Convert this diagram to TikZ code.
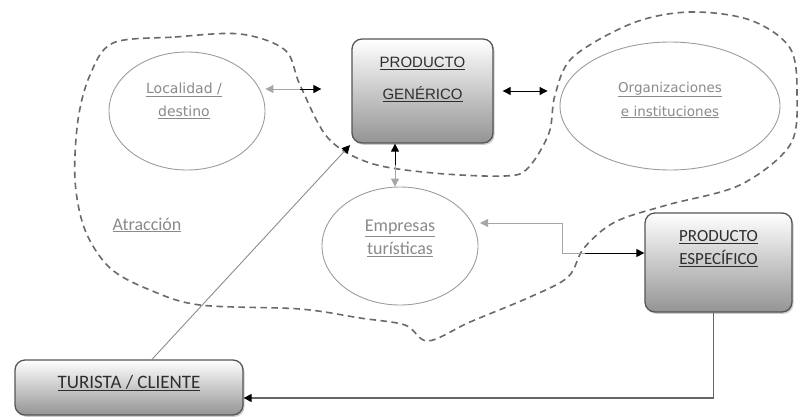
\documentclass[tikz,border=0pt]{standalone}
\usepackage{fontspec}
\setmainfont{Carlito}
\newfontfamily\verdfont{DejaVu Sans}
\newfontfamily\arialfont{Liberation Sans}
\usetikzlibrary{shapes.geometric,shadows,arrows.meta,calc}
\definecolor{ovalgray}{HTML}{9C9C9C}
\definecolor{ovaltext}{HTML}{8A8A8A}
\definecolor{boxline}{HTML}{555555}
\definecolor{boxtext}{HTML}{2E2E2E}
\definecolor{dashgray}{HTML}{6A6A6A}
\tikzset{
  oval/.style={ellipse,draw=ovalgray,line width=0.9pt,inner sep=0pt},
  ovaltxt/.style={text=ovaltext,align=center},
  prodbox/.style={rectangle,rounded corners=10pt,draw=boxline,line width=1.3pt,
    top color=white,bottom color=black!42,
    drop shadow={shadow xshift=1.5pt,shadow yshift=-1.8pt,opacity=0.4}},
  boxtxt/.style={text=boxtext,align=center},
  blkarr/.style={-{Triangle[length=8pt,width=8pt]},line width=1pt,black},
  gryarr/.style={-{Triangle[length=8pt,width=8pt]},line width=1pt,black!35},
}
\begin{document}
\begin{tikzpicture}[x=1pt,y=-1pt]
\useasboundingbox (0,0) rectangle (799,418);

\draw[dashgray,line width=1.6pt,dash pattern=on 6.5pt off 4.5pt]
  plot[smooth cycle,tension=0.55] coordinates {
  (113,43) (175,37) (240,34) (285,50) (300,85) (328,138) (370,163)
  (433,173) (505,176) (528,168) (549,133) (555,95) (573,57) (633,23)
  (690,12) (750,20) (790,48) (797,95) (790,145) (740,185) (667,205)
  (615,222) (584,248) (568,277) (530,297) (470,322) (428,341) (405,325)
  (360,318) (300,309) (200,305) (150,290) (110,268) (85,230) (75,180)
  (78,120) (90,75)};

\node[oval,minimum width=156pt,minimum height=118pt] (loc) at (187,111) {};
\node[ovaltxt,font=\verdfont\fontsize{14}{23}\selectfont] (loctxt) at (184,100.5)
  {\underline{Localidad /}\\\underline{destino}};

\node[oval,minimum width=220pt,minimum height=128pt] (org) at (670,106) {};
\node[ovaltxt,font=\verdfont\fontsize{13.5}{24}\selectfont] (orgtxt) at (670,100)
  {\underline{Organizaciones}\\\underline{e instituciones}};

\node[oval,minimum width=156pt,minimum height=118pt] (emp) at (400,246) {};
\node[ovaltxt,font=\fontsize{18}{23}\selectfont] (emptxt) at (400,238.5)
  {\underline{Empresas}\\\underline{turísticas}};

\node[ovaltxt,font=\fontsize{18}{23}\selectfont] (atr) at (147,225) {\underline{Atracción}};

\node[prodbox,minimum width=141pt,minimum height=104pt] (gen) at (422.5,91) {};
\node[boxtxt,font=\arialfont\fontsize{15}{32}\selectfont] (gentxt) at (422.5,79)
  {\underline{PRODUCTO}\\\underline{GENÉRICO}};

\node[prodbox,minimum width=147pt,minimum height=99pt] (esp) at (718.5,262.5) {};
\node[boxtxt,font=\fontsize{17}{23}\selectfont] (esptxt) at (718.5,248.5)
  {\underline{PRODUCTO}\\\underline{ESPECÍFICO}};

\node[prodbox,minimum width=228pt,minimum height=55pt] (tur) at (129,387.5) {};
\node[boxtxt,font=\fontsize{19}{23}\selectfont] (turtxt) at (129,383)
  {\underline{TURISTA / CLIENTE}};

\coordinate (lg) at (300,89);
\draw[gryarr] (lg) -- (lg -| loc.east);
\draw[blkarr,shorten >=30pt] (lg) -- (lg -| gen.west);

\draw[blkarr,{Triangle[length=8pt,width=8pt]}-{Triangle[length=8pt,width=8pt]},
  shorten <=9pt,shorten >=12pt] (gen.east) -- (gen.east -| org.west);

\coordinate (ge) at (395,165);
\draw[blkarr] (ge) -- (ge |- gen.south);
\draw[gryarr] (ge) -- (ge |- emp.north);

\coordinate (ee) at (585,253);
\draw[gryarr] (ee) -- (562,253) -- (562,223) -- (480,223);
\draw[blkarr] (ee) -- (ee -| esp.west);

\draw[black!60,line width=1.2pt,-{Triangle[length=8pt,width=8pt,black]}]
  ([xshift=-5pt]esp.south) |- ([yshift=-10.5pt]tur.east);

\draw[black!45,line width=0.9pt,-{Triangle[length=8pt,width=8pt,black]},shorten >=2pt]
  ([xshift=23pt]tur.north) -- (gen.south west);
\end{tikzpicture}
\end{document}
